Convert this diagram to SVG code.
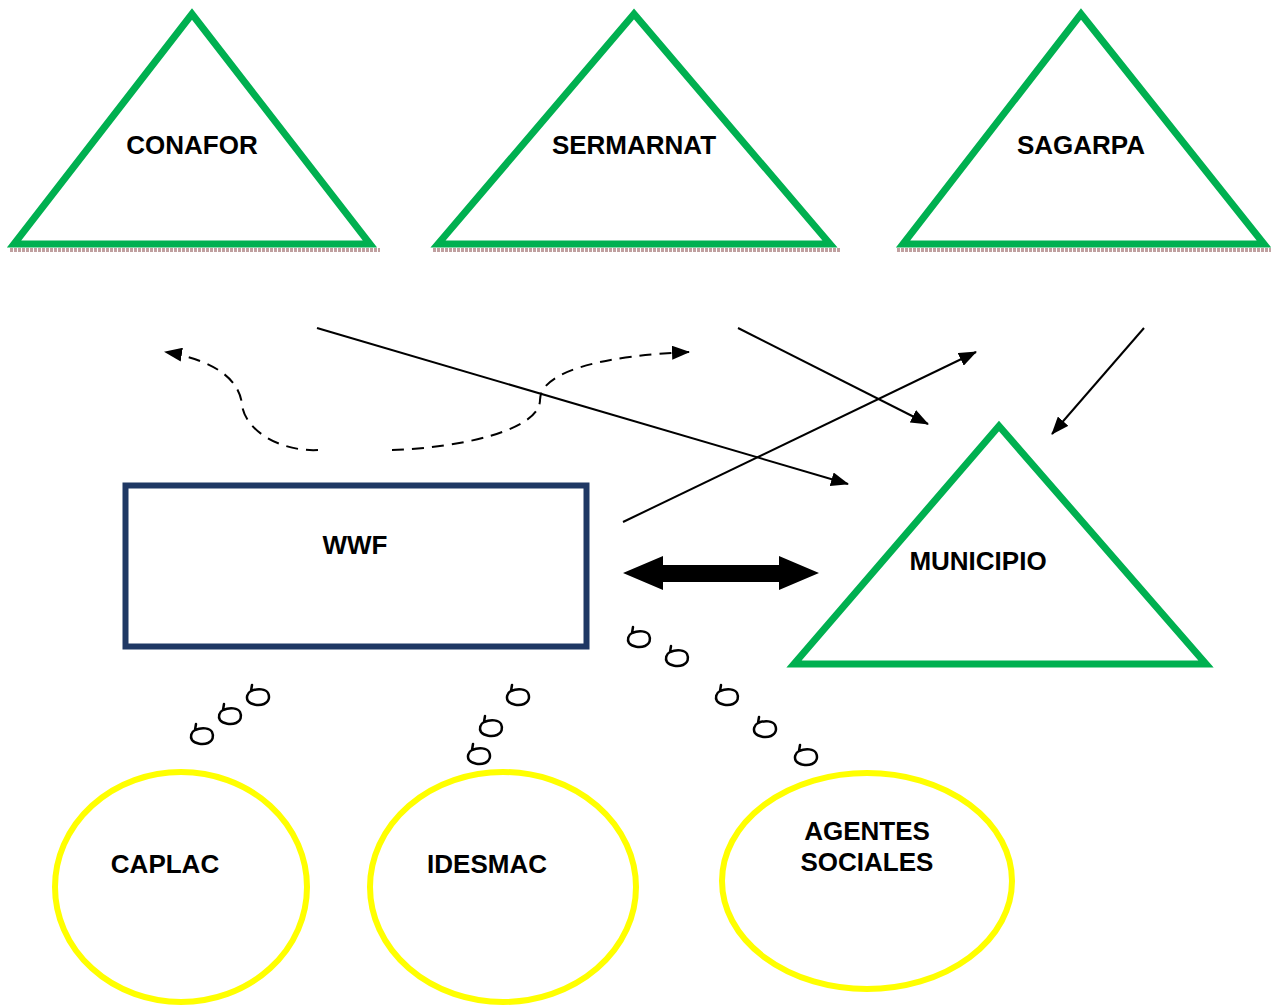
<svg xmlns="http://www.w3.org/2000/svg" width="1279" height="1007" viewBox="0 0 1279 1007">
<style>
.tri{fill:none;stroke:#00B050;stroke-width:7;stroke-linejoin:miter}
.shadow{stroke:#C0A0A0;stroke-width:4;stroke-dasharray:3 1}
.ell{fill:none;stroke:#FFFF00;stroke-width:6}
.lbl{font-family:"Liberation Sans",Arial,sans-serif;font-weight:bold;font-size:26px;fill:#000;text-anchor:middle}
.ln{stroke:#000;stroke-width:2;fill:none}
.dash{stroke:#000;stroke-width:2;fill:none;stroke-dasharray:12 8}
.loop{fill:none;stroke:#000;stroke-width:2.5;stroke-linecap:round;stroke-linejoin:round}
</style>
<defs>
<marker id="ah" viewBox="0 0 18 14" refX="17" refY="7" markerWidth="18" markerHeight="14" markerUnits="userSpaceOnUse" orient="auto">
<path d="M0,0 L18,7 L0,14 Z" fill="#000"/>
</marker>
<path id="lp" class="loop" d="M-6,-11 L-7,-5 C-11,-3 -12,2 -10,5 C-7,9 1,10 6,8 C11,6 12,1 10,-3 C8,-7 0,-8 -7,-5"/>
</defs>
<rect width="1279" height="1007" fill="#fff"/>

<g id="conafor">
<line class="shadow" x1="10" y1="250" x2="380" y2="250"/>
<polygon class="tri" points="192,14 14,244 370,244"/>
<text class="lbl" x="192" y="154">CONAFOR</text>
</g>
<g id="sermarnat">
<line class="shadow" x1="433" y1="250" x2="840" y2="250"/>
<polygon class="tri" points="634,14 438,244 830,244"/>
<text class="lbl" x="634" y="154">SERMARNAT</text>
</g>
<g id="sagarpa">
<line class="shadow" x1="897" y1="250" x2="1271" y2="250"/>
<polygon class="tri" points="1081,14 903,244 1264,244"/>
<text class="lbl" x="1081" y="154">SAGARPA</text>
</g>
<g id="municipio">
<polygon class="tri" points="999,426 794,664 1206,664"/>
<text class="lbl" x="978" y="570">MUNICIPIO</text>
</g>
<g id="wwf">
<rect x="125.5" y="485.5" width="461" height="161" fill="none" stroke="#1F3864" stroke-width="6"/>
<text class="lbl" x="355" y="554">WWF</text>
</g>
<g id="caplac">
<ellipse class="ell" cx="181" cy="887" rx="126" ry="115"/>
<text class="lbl" x="165" y="873">CAPLAC</text>
</g>
<g id="idesmac">
<ellipse class="ell" cx="503" cy="887" rx="133" ry="115"/>
<text class="lbl" x="487" y="873">IDESMAC</text>
</g>
<g id="agentes">
<ellipse class="ell" cx="867" cy="881" rx="145" ry="108"/>
<text class="lbl" x="867" y="840">AGENTES</text>
<text class="lbl" x="867" y="871">SOCIALES</text>
</g>

<g id="connectors">
<line class="ln" x1="317" y1="328" x2="848" y2="484" marker-end="url(#ah)"/>
<line class="ln" x1="738" y1="328" x2="928" y2="424" marker-end="url(#ah)"/>
<line class="ln" x1="623" y1="522" x2="976" y2="352" marker-end="url(#ah)"/>
<line class="ln" x1="1144" y1="328" x2="1052" y2="434" marker-end="url(#ah)"/>
<path class="dash" d="M318,450 C280,452 245,430 242,405 C240,380 215,360 165,352" marker-end="url(#ah)"/>
<path class="dash" d="M392,450 C460,448 540,430 540,400 C540,370 610,355 689,352" marker-end="url(#ah)"/>
<polygon fill="#000" points="623,573 663,556 663,565 779,565 779,556 819,573 779,590 779,582 663,582 663,590"/>
<use href="#lp" x="202" y="735"/>
<use href="#lp" x="230" y="715"/>
<use href="#lp" x="258" y="696"/>
<use href="#lp" x="479" y="755"/>
<use href="#lp" x="491" y="727"/>
<use href="#lp" x="518" y="696"/>
<use href="#lp" x="639" y="638"/>
<use href="#lp" x="677" y="657"/>
<use href="#lp" x="727" y="696"/>
<use href="#lp" x="765" y="728"/>
<use href="#lp" x="806" y="756"/>
</g>
</svg>
